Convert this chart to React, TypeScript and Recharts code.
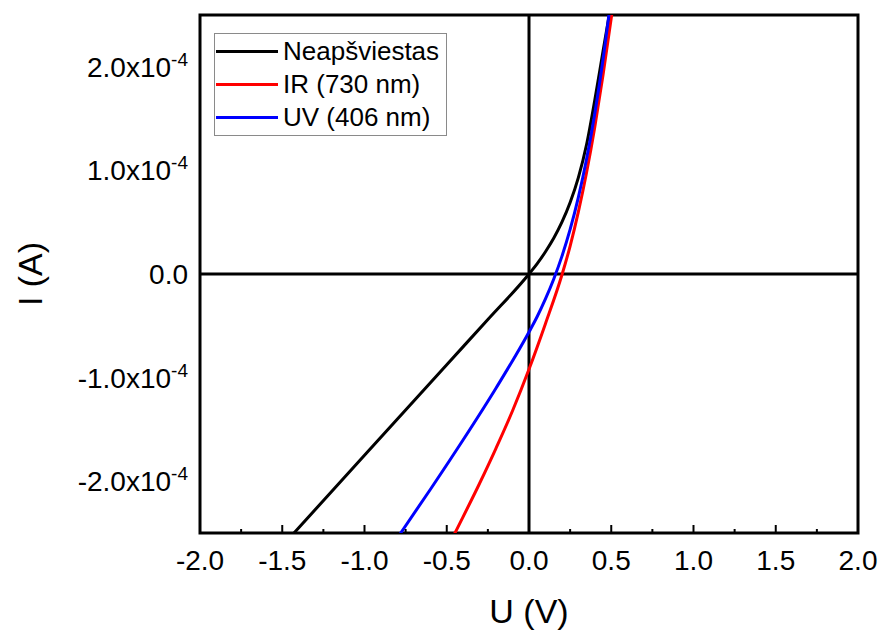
import {
  LineChart, Line, XAxis, YAxis, ReferenceLine, ReferenceArea, Legend,
} from 'recharts';

// U (V) and I (A), one pair of arrays per curve
const uDark = [-1.6, -1.0, -0.5, -0.25, 0, 0.05, 0.1, 0.15, 0.2, 0.25, 0.3, 0.35, 0.4, 0.45, 0.49, 0.52];
const iDark = [-2.8e-4, -1.75e-4, -0.875e-4, -0.44e-4, 0, 0.1e-4, 0.215e-4, 0.345e-4, 0.5e-4, 0.69e-4, 0.93e-4, 1.25e-4, 1.68e-4, 2.15e-4, 2.52e-4, 2.8e-4];

const uIR = [-0.5, -0.45, -0.3, -0.2, -0.1, 0, 0.1, 0.2, 0.25, 0.3, 0.35, 0.4, 0.45, 0.5, 0.53];
const iIR = [-2.66e-4, -2.5e-4, -2.02e-4, -1.68e-4, -1.32e-4, -0.92e-4, -0.48e-4, -0.01e-4, 0.27e-4, 0.6e-4, 0.98e-4, 1.42e-4, 1.92e-4, 2.47e-4, 2.82e-4];

const uUV = [-0.85, -0.78, -0.6, -0.4, -0.2, 0, 0.05, 0.1, 0.15, 0.2, 0.25, 0.3, 0.35, 0.4, 0.45, 0.5];
const iUV = [-2.66e-4, -2.5e-4, -2.08e-4, -1.6e-4, -1.1e-4, -0.56e-4, -0.41e-4, -0.24e-4, -0.05e-4, 0.17e-4, 0.43e-4, 0.74e-4, 1.11e-4, 1.55e-4, 2.07e-4, 2.68e-4];

const xTicks = [-2, -1.75, -1.5, -1.25, -1, -0.75, -0.5, -0.25, 0, 0.25, 0.5, 0.75, 1, 1.25, 1.5, 1.75, 2];
const yTicks = [-2e-4, -1e-4, 0, 1e-4, 2e-4];

const X_DOMAIN = [-2, 2];
const Y_DOMAIN = [-2.5e-4, 2.5e-4];

const FONT = '"Liberation Sans", Arial, sans-serif';

const toRows = (us: number[], is: number[]) => us.map((u, k) => ({ u, i: is[k] }));

const series = [
  { name: 'Neapšviestas', color: '#000000', data: toRows(uDark, iDark) },
  { name: 'IR (730 nm)', color: '#ff0000', data: toRows(uIR, iIR) },
  { name: 'UV (406 nm)', color: '#0000ff', data: toRows(uUV, iUV) },
];

const XTick = ({ x, y, payload }: any) => {
  const v = payload.value;
  const major = Math.abs(v * 2 - Math.round(v * 2)) < 1e-6;
  return (
    <g>
      <line x1={x} x2={x} y1={y} y2={y - (major ? 8 : 4)} stroke="#000" strokeWidth={2} />
      {major && (
        <text x={x} y={y + 37} textAnchor="middle" fontSize={28} fontFamily={FONT} fill="#000">
          {v.toFixed(1)}
        </text>
      )}
    </g>
  );
};

const YTick = ({ x, y, payload }: any) => {
  const v = payload.value;
  const m = v / 1e-4;
  if (Math.abs(m) < 1e-9) {
    return (
      <text x={x} y={y + 10} textAnchor="end" fontSize={28} fontFamily={FONT} fill="#000">0.0</text>
    );
  }
  return (
    <text x={x} y={y + 10} textAnchor="end" fontSize={28} fontFamily={FONT} fill="#000">
      <tspan>{m.toFixed(1)}x10</tspan>
      <tspan fontSize={19} dy={-11}>-4</tspan>
    </text>
  );
};

const renderLegend = () => (
  <div style={{
    border: '1px solid #8a8a8a', background: '#fff', width: 231, height: 101,
    fontFamily: FONT, fontSize: 26, color: '#000', boxSizing: 'content-box',
  }}>
    {series.map((s, k) => (
      <div key={s.name} style={{
        position: 'absolute', left: 1, top: 3 + k * 33, height: 30,
        display: 'flex', alignItems: 'center', whiteSpace: 'nowrap',
      }}>
        <span style={{ display: 'inline-block', width: 62, height: 3, background: s.color, marginLeft: 1 }} />
        <span style={{ marginLeft: 5 }}>{s.name}</span>
      </div>
    ))}
  </div>
);

export default function App() {
  return (
    <div style={{ position: 'absolute', left: 0, top: 0, background: '#fff' }}>
      <LineChart width={881} height={631} margin={{ top: 15, right: 23, left: 0, bottom: 0 }}>
        <XAxis
          type="number" dataKey="u" domain={X_DOMAIN} ticks={xTicks} allowDataOverflow
          axisLine={false} tickLine={false} tickSize={0} tickMargin={0} height={98}
          tick={<XTick />} interval={0}
          label={({ viewBox }: any) => (
            <text x={viewBox.x + viewBox.width / 2} y={623} textAnchor="middle"
              fontSize={34} fontFamily={FONT} fill="#000">U (V)</text>
          )}
        />
        <YAxis
          type="number" dataKey="i" domain={Y_DOMAIN} ticks={yTicks} allowDataOverflow
          axisLine={false} tickLine={false} tickSize={0} tickMargin={12} width={200}
          tick={<YTick />} interval={0}
          label={({ viewBox }: any) => {
            const cy = viewBox.y + viewBox.height / 2;
            return (
              <text x={42} y={cy} textAnchor="middle" transform={`rotate(-90, 42, ${cy})`}
                fontSize={34} fontFamily={FONT} fill="#000">I (A)</text>
            );
          }}
        />
        <ReferenceLine x={0} stroke="#000" strokeWidth={3} />
        <ReferenceLine y={0} stroke="#000" strokeWidth={3} />
        {series.map(s => (
          <Line key={s.name} data={s.data} dataKey="i" name={s.name} type="monotone"
            stroke={s.color} strokeWidth={3} dot={false} isAnimationActive={false} />
        ))}
        <ReferenceArea x1={X_DOMAIN[0]} x2={X_DOMAIN[1]} y1={Y_DOMAIN[0]} y2={Y_DOMAIN[1]}
          fill="none" fillOpacity={0} stroke="#000" strokeWidth={3} />
        <Legend layout="vertical" align="center" verticalAlign="middle" content={renderLegend}
          wrapperStyle={{ left: 214, top: 33, width: 233, height: 103 }} />
      </LineChart>
    </div>
  );
}
